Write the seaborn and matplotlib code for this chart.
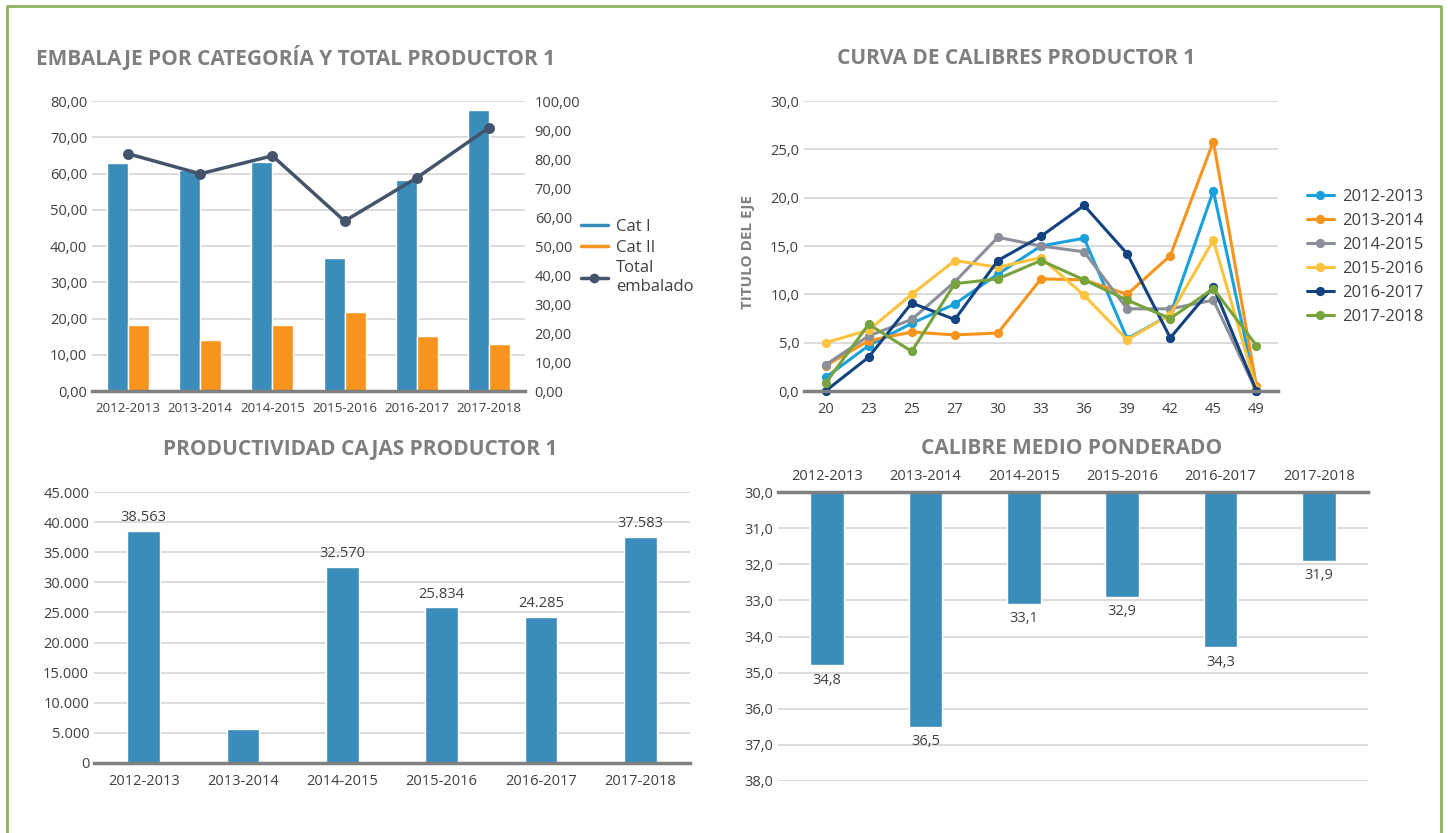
import numpy as np
import pandas as pd
import matplotlib
matplotlib.use("Agg")
import matplotlib.pyplot as plt
from matplotlib.lines import Line2D
import seaborn as sns

sns.set_style("white")
plt.rcParams['font.family'] = ['Open Sans', 'DejaVu Sans']

# ---- datos ----
temporadas = ["2012-2013", "2013-2014", "2014-2015", "2015-2016", "2016-2017", "2017-2018"]
cat_i = [62.9, 61.0, 63.2, 36.8, 58.2, 77.4]
cat_ii = [18.3, 14.2, 18.1, 21.9, 15.3, 13.1]
total_embalado = [81.8, 74.9, 81.1, 58.6, 73.5, 90.8]

calibres = ["20", "23", "25", "27", "30", "33", "36", "39", "42", "45", "49"]
curva_2012 = [1.4, 4.7, 7.0, 9.0, 12.1, 15.0, 15.8, 5.4, 7.9, 20.7, 0.0]
curva_2013 = [2.6, 5.2, 6.1, 5.8, 6.0, 11.6, 11.5, 10.0, 14.0, 25.8, 0.5]
curva_2014 = [2.7, 5.7, 7.4, 11.3, 15.9, 15.0, 14.4, 8.5, 8.5, 9.4, 0.0]
curva_2015 = [5.0, 6.3, 10.0, 13.5, 12.8, 13.8, 9.9, 5.3, 7.9, 15.6, 0.2]
curva_2016 = [0.0, 3.5, 9.1, 7.4, 13.5, 16.0, 19.2, 14.2, 5.5, 10.8, 0.0]
curva_2017 = [0.8, 6.9, 4.1, 11.1, 11.6, 13.5, 11.5, 9.4, 7.5, 10.6, 4.7]

productividad = [38563, 5700, 32570, 25834, 24285, 37583]
etiquetas_prod = ["38.563", "", "32.570", "25.834", "24.285", "37.583"]

calibre_medio = [34.8, 36.5, 33.1, 32.9, 34.3, 31.9]

# ---- colores ----
azul = "#3a8dba"
naranja = "#f7941d"
pizarra = "#44546a"
gris_titulo = "#7f7f7f"
gris_eje = "#808080"
gris_grid = "#d9d9d9"
texto = "#404040"
colores_curva = ["#1aa0da", "#f7941d", "#8a8f99", "#fdc33f", "#12427f", "#77a33c"]

W, H = 1448, 833
fig = plt.figure(figsize=(W / 100, H / 100), dpi=100)


def px(x0, y_top, x1, y_bot):
    return [x0 / W, 1 - y_bot / H, (x1 - x0) / W, (y_bot - y_top) / H]


def estilo(ax, eje_y="bottom"):
    for s in ax.spines.values():
        s.set_visible(False)
    ax.spines[eje_y].set_visible(True)
    ax.spines[eje_y].set_color(gris_eje)
    ax.spines[eje_y].set_linewidth(2.5)
    ax.yaxis.grid(True, color=gris_grid, linewidth=1.3)
    ax.set_axisbelow(True)
    ax.tick_params(length=0, colors=texto, labelsize=10.5)
    ax.set_xlabel("")
    ax.set_ylabel("")


def coma(v, dec):
    return f"{v:.{dec}f}".replace(".", ",")


# ---------- 1. Embalaje por categoría ----------
ax1 = fig.add_axes(px(92, 101, 525, 391))
df1 = pd.DataFrame({
    "temporada": temporadas * 2,
    "valor": cat_i + cat_ii,
    "cat": ["Cat I"] * 6 + ["Cat II"] * 6,
})
sns.barplot(data=df1, x="temporada", y="valor", hue="cat", palette=[azul, naranja],
            width=0.58, saturation=1, legend=False, ax=ax1)
ax1.set_ylim(0, 80)
ax1.set_yticks(np.arange(0, 81, 10))
ax1.set_yticklabels([coma(v, 2) for v in np.arange(0, 81, 10)])
estilo(ax1)
ax1.tick_params(axis="x", pad=8, labelsize=9.6)

ax1b = ax1.twinx()
sns.pointplot(x=temporadas, y=total_embalado, color=pizarra, errorbar=None,
              markersize=6, linewidth=2.5, ax=ax1b)
ax1b.set_ylim(0, 100)
ax1b.set_yticks(np.arange(0, 101, 10))
ax1b.set_yticklabels([coma(v, 2) for v in np.arange(0, 101, 10)])
for s in ax1b.spines.values():
    s.set_visible(False)
ax1b.tick_params(length=0, colors=texto, labelsize=10.5, pad=7)
ax1.set_xlim(-0.5, 5.5)

h1 = [Line2D([], [], color=azul, lw=2.5),
      Line2D([], [], color=naranja, lw=2.5),
      Line2D([], [], color=pizarra, lw=2.5, marker="o", markersize=6)]
ax1.legend(h1, ["Cat I", "Cat II", "Total\nembalado"], loc="upper left",
           bbox_to_anchor=(566 / W, 1 - 204 / H), bbox_transform=fig.transFigure,
           frameon=False, fontsize=12, handlelength=1.6, handletextpad=0.5,
           labelspacing=0.28, labelcolor=texto)

fig.text(36 / W, 1 - 58 / H, "EMBALAJE POR CATEGORÍA Y TOTAL PRODUCTOR 1",
         ha="left", va="center", fontsize=15, fontweight="bold", color=gris_titulo)

# ---------- 2. Curva de calibres ----------
ax2 = fig.add_axes(px(804, 101, 1278, 391))
series = [curva_2012, curva_2013, curva_2014, curva_2015, curva_2016, curva_2017]
df2 = pd.DataFrame({
    "calibre": calibres * 6,
    "pct": sum(series, []),
    "temporada": sum([[t] * len(calibres) for t in temporadas], []),
})
sns.pointplot(data=df2, x="calibre", y="pct", hue="temporada", order=calibres,
              hue_order=temporadas, palette=colores_curva, errorbar=None,
              markersize=5, linewidth=2.2, ax=ax2)
for ln in ax2.lines:
    ln.set_clip_on(False)
ax2.set_ylim(0, 30)
ax2.set_yticks(np.arange(0, 31, 5))
ax2.set_yticklabels([coma(v, 1) for v in np.arange(0, 31, 5)])
estilo(ax2)
ax2.tick_params(axis="x", pad=8)
ax2.set_xlim(-0.5, 10.5)
h2, l2 = ax2.get_legend_handles_labels()
ax2.legend(h2, l2, loc="upper left", bbox_to_anchor=(1292 / W, 1 - 174 / H),
           bbox_transform=fig.transFigure, frameon=False, fontsize=12,
           handlelength=1.6, handletextpad=0.5, labelspacing=0.48, labelcolor=texto)
fig.text(748 / W, 1 - 252 / H, "TITULO DEL EJE", rotation=90, ha="center", va="center",
         fontsize=11, fontweight="bold", color=gris_titulo)
fig.text(1016 / W, 1 - 58 / H, "CURVA DE CALIBRES PRODUCTOR 1",
         ha="center", va="center", fontsize=15, fontweight="bold", color=gris_titulo)

# ---------- 3. Productividad cajas ----------
ax3 = fig.add_axes(px(94, 492, 690, 763))
sns.barplot(x=temporadas, y=productividad, color=azul, width=0.33, saturation=1, ax=ax3)
ax3.set_ylim(0, 45000)
ax3.set_yticks(np.arange(0, 45001, 5000))
ax3.set_yticklabels([f"{v:,}".replace(",", ".") for v in np.arange(0, 45001, 5000)])
estilo(ax3)
ax3.tick_params(axis="x", pad=8)
for i, (v, lab) in enumerate(zip(productividad, etiquetas_prod)):
    ax3.text(i, v + 900, lab, ha="center", va="bottom", fontsize=10.5, color=texto)
fig.text(360 / W, 1 - 449 / H, "PRODUCTIVIDAD CAJAS PRODUCTOR 1",
         ha="center", va="center", fontsize=15, fontweight="bold", color=gris_titulo)

# ---------- 4. Calibre medio ponderado ----------
ax4 = fig.add_axes(px(778, 492, 1368, 781))
sns.barplot(x=temporadas, y=calibre_medio, color=azul, width=0.34, saturation=1, ax=ax4)
ax4.set_ylim(38, 30)
ax4.set_yticks(np.arange(30, 39, 1))
ax4.set_yticklabels([coma(v, 1) for v in np.arange(30, 39, 1)])
estilo(ax4, eje_y="top")
ax4.xaxis.tick_top()
ax4.tick_params(axis="x", pad=6)
for i, v in enumerate(calibre_medio):
    ax4.text(i, v + 0.2, coma(v, 1), ha="center", va="top", fontsize=10.5, color=texto)
fig.text(1072 / W, 1 - 449 / H, "CALIBRE MEDIO PONDERADO",
         ha="center", va="center", fontsize=15, fontweight="bold", color=gris_titulo)

# marco verde
borde = "#8fb15e"
fig.add_artist(Line2D([7 / W, 7 / W, 1441 / W, 1441 / W],
                      [0, 1 - 6 / H, 1 - 6 / H, 0],
                      transform=fig.transFigure, color=borde, lw=2))

fig.savefig("out.png", dpi=100)
